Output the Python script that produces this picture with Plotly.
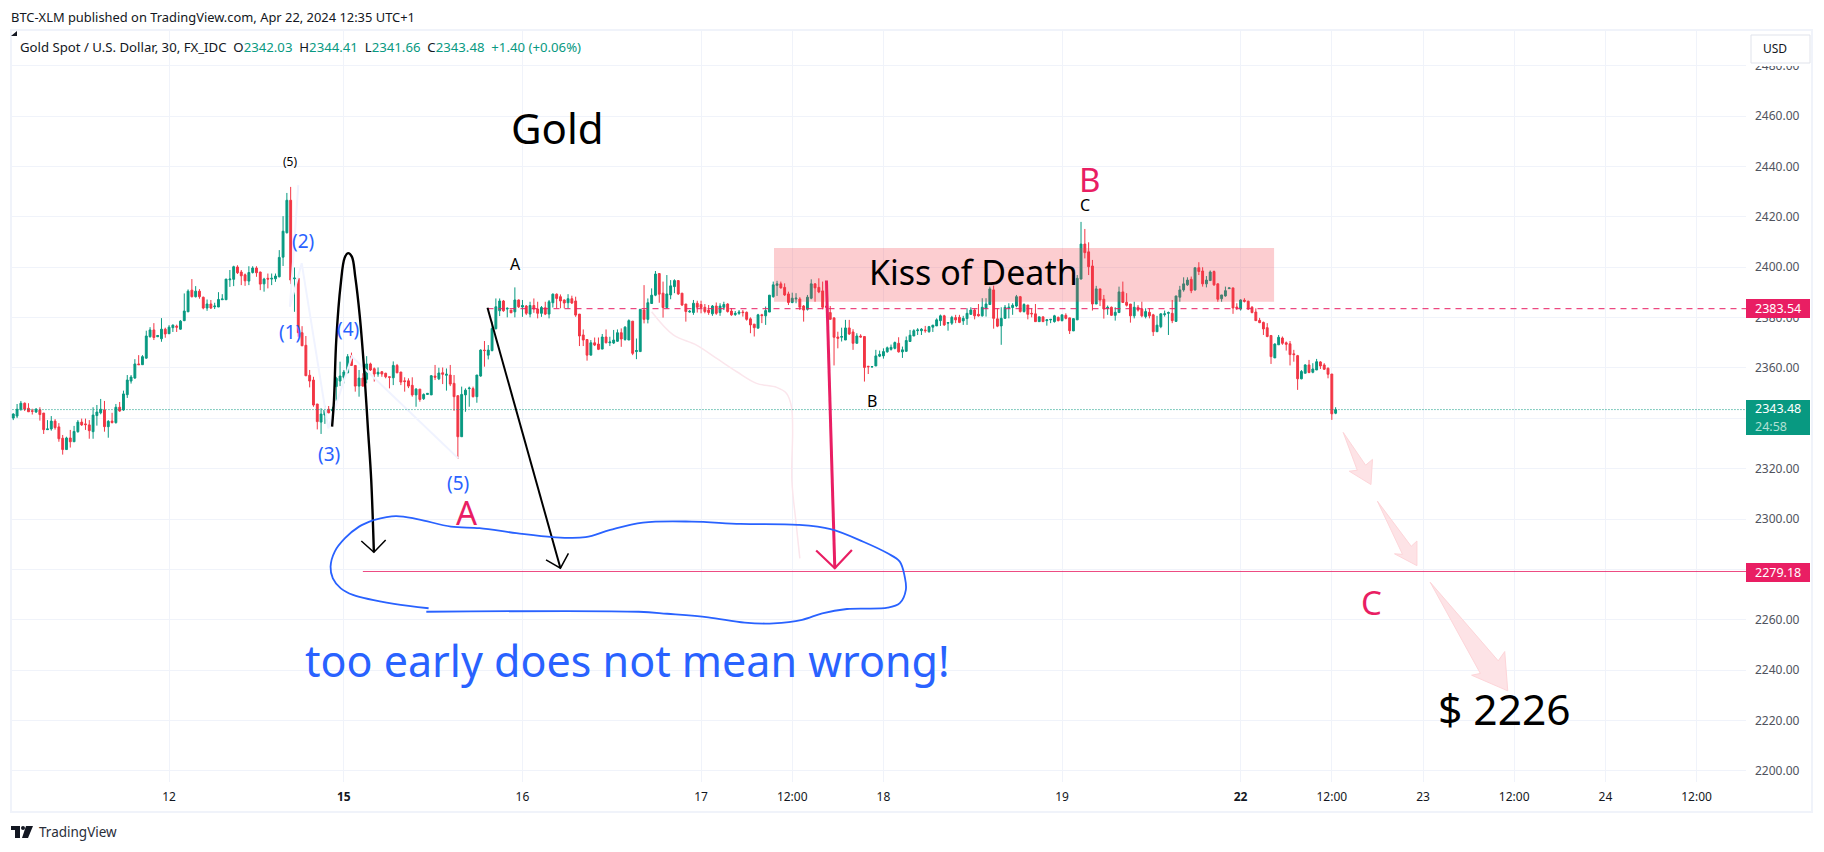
import plotly.graph_objects as go

opens = [2340.1,2340.9,2343.6,2346.0,2344.0,2343.0,2342.5,2343.4,2342.1,2335.5,
2335.8,2338.9,2336.6,2332.1,2327.6,2332.2,2330.7,2334.7,2338.5,2337.8,
2337.4,2334.7,2341.1,2342.2,2343.3,2336.7,2338.9,2338.3,2344.4,2343.3,
2349.4,2354.8,2356.0,2361.6,2361.3,2363.9,2372.4,2375.1,2372.4,2371.6,
2375.4,2373.6,2376.0,2376.6,2375.4,2378.8,2382.3,2390.9,2388.3,2390.5,
2388.1,2383.8,2385.4,2384.3,2384.2,2387.1,2387.1,2395.0,2395.2,2400.1,
2398.1,2397.0,2394.5,2397.9,2399.7,2398.1,2393.4,2395.6,2395.3,2395.4,
2396.2,2404.0,2413.7,2426.6,2395.4,2395.6,2374.0,2369.0,2357.1,2355.2,
2345.7,2338.5,2341.3,2343.6,2343.0,2352.6,2354.8,2356.3,2358.1,2364.7,
2361.0,2352.8,2356.0,2355.5,2361.6,2359.7,2357.6,2358.5,2357.9,2356.5,
2356.1,2361.0,2358.4,2354.9,2354.9,2353.1,2349.3,2351.6,2347.8,2349.5,
2349.3,2356.8,2355.7,2358.1,2357.1,2357.2,2353.9,2349.0,2332.7,2349.3,
2351.8,2351.8,2348.6,2356.8,2367.1,2365.1,2366.9,2375.6,2382.7,2386.6,
2383.4,2383.0,2382.3,2387.0,2384.2,2384.6,2381.4,2384.8,2383.4,2381.7,
2383.9,2381.4,2385.9,2389.3,2388.3,2387.0,2385.9,2387.5,2386.6,2381.4,
2373.1,2371.3,2365.1,2370.0,2369.5,2367.5,2372.3,2370.0,2369.9,2370.6,
2374.0,2371.3,2371.1,2378.6,2366.5,2366.5,2383.0,2379.3,2385.6,2388.9,
2397.5,2389.7,2384.0,2389.0,2392.3,2394.7,2389.7,2385.4,2382.2,2382.0,
2385.7,2385.2,2384.1,2383.0,2381.5,2384.6,2382.0,2384.1,2385.4,2382.6,
2381.2,2381.7,2382.2,2382.1,2379.5,2377.4,2375.8,2381.1,2380.7,2382.2,
2388.3,2392.8,2393.4,2392.0,2389.4,2386.0,2387.4,2387.4,2384.6,2383.3,
2387.7,2393.4,2392.0,2390.6,2384.6,2382.0,2379.9,2372.3,2372.2,2371.1,
2375.9,2374.3,2369.8,2372.7,2372.5,2360.7,2360.4,2360.8,2364.7,2364.8,
2366.4,2367.4,2367.8,2369.8,2366.4,2366.6,2370.5,2372.7,2374.8,2374.8,
2375.1,2374.4,2376.2,2376.7,2378.8,2380.7,2377.8,2377.8,2380.0,2380.1,
2378.7,2379.6,2381.3,2383.0,2381.3,2380.7,2383.7,2385.2,2391.0,2379.5,
2376.7,2379.7,2383.8,2384.0,2384.6,2388.3,2382.4,2385.0,2381.7,2381.5,
2378.4,2380.3,2378.8,2379.1,2378.4,2380.1,2378.8,2380.9,2379.9,2374.7,
2379.1,2395.3,2409.2,2406.1,2400.5,2385.4,2391.4,2387.3,2383.6,2384.1,
2380.9,2382.0,2390.2,2386.1,2385.4,2380.7,2384.1,2383.4,2380.4,2382.1,
2381.1,2374.4,2376.4,2381.2,2381.7,2381.7,2378.5,2388.1,2391.0,2393.0,
2395.2,2391.0,2399.8,2398.5,2393.4,2394.7,2398.3,2393.4,2387.5,2388.6,
2391.5,2391.8,2384.2,2383.4,2386.9,2386.5,2384.1,2382.2,2378.9,2378.1,
2376.0,2372.9,2364.0,2369.2,2371.9,2370.0,2369.6,2365.6,2364.9,2355.7,
2357.9,2361.2,2358.3,2359.2,2362.4,2361.2,2359.9,2357.6,2342.03]

highs = [2342.0,2345.7,2346.9,2346.3,2346.0,2343.8,2344.1,2344.4,2342.1,2339.3,
2340.9,2339.7,2338.1,2333.4,2332.7,2335.4,2337.0,2339.3,2339.9,2339.9,
2339.3,2344.4,2345.3,2347.7,2346.9,2339.3,2342.2,2345.7,2346.5,2351.0,
2357.2,2357.2,2363.5,2365.1,2365.1,2374.8,2376.2,2377.8,2372.9,2379.8,
2376.0,2377.0,2377.3,2377.2,2379.0,2389.6,2391.2,2395.3,2392.5,2391.3,
2388.3,2387.2,2387.0,2385.9,2390.1,2389.3,2395.3,2398.9,2400.6,2400.8,
2398.9,2397.5,2400.4,2400.4,2400.4,2398.2,2395.8,2397.5,2397.5,2397.5,
2406.8,2420.3,2429.5,2431.9,2399.9,2395.6,2376.6,2372.7,2359.2,2356.5,
2345.7,2344.0,2345.0,2344.9,2344.6,2356.5,2362.5,2359.2,2365.5,2366.1,
2361.0,2359.2,2357.9,2364.7,2362.1,2360.2,2360.2,2358.8,2358.1,2356.5,
2362.6,2361.6,2358.4,2356.3,2355.9,2356.3,2352.0,2351.6,2349.9,2350.0,
2357.2,2361.2,2360.1,2360.2,2359.8,2361.2,2357.2,2349.0,2352.6,2351.9,
2352.6,2352.6,2357.2,2367.4,2370.7,2369.1,2378.4,2387.6,2387.6,2387.0,
2384.0,2383.0,2392.0,2387.2,2387.0,2385.0,2386.3,2387.6,2386.3,2384.6,
2386.3,2387.0,2389.6,2389.6,2389.2,2387.2,2389.3,2388.7,2388.3,2381.4,
2375.3,2371.3,2371.1,2372.1,2372.1,2373.5,2375.3,2372.4,2375.1,2375.3,
2375.7,2376.6,2379.3,2378.6,2371.7,2383.3,2392.9,2387.6,2391.6,2398.5,
2397.5,2394.3,2396.9,2394.9,2395.2,2394.9,2389.7,2385.4,2383.0,2387.0,
2386.7,2386.7,2385.4,2385.0,2385.0,2386.0,2385.7,2386.3,2385.7,2383.7,
2382.6,2383.0,2383.0,2382.4,2380.1,2377.4,2381.5,2381.5,2384.4,2389.0,
2394.3,2394.6,2394.3,2393.6,2390.3,2389.9,2389.7,2388.1,2385.0,2389.0,
2395.2,2393.6,2395.6,2394.3,2387.0,2384.6,2379.9,2374.4,2376.0,2379.1,
2379.1,2375.4,2373.8,2373.4,2372.5,2360.7,2360.6,2367.2,2366.9,2367.8,
2368.5,2369.3,2370.5,2372.2,2368.5,2372.5,2375.1,2375.4,2375.8,2375.8,
2376.7,2376.7,2377.1,2379.7,2381.2,2381.1,2378.0,2380.7,2381.1,2381.1,
2380.7,2383.7,2384.1,2383.7,2385.4,2387.7,2387.7,2392.3,2392.7,2383.7,
2384.1,2385.0,2385.7,2385.7,2389.0,2388.6,2385.7,2385.0,2383.7,2385.4,
2380.3,2380.3,2379.3,2379.3,2381.1,2380.4,2381.1,2381.7,2379.9,2379.7,
2396.9,2418.0,2415.2,2409.9,2402.9,2392.6,2391.4,2389.0,2384.8,2384.4,
2384.1,2392.3,2394.3,2389.7,2385.4,2386.3,2385.0,2386.3,2383.7,2383.7,
2381.5,2380.7,2381.7,2382.8,2382.4,2387.0,2388.6,2392.6,2396.0,2396.0,
2396.3,2399.8,2402.0,2400.0,2396.5,2398.7,2398.7,2393.6,2389.0,2392.3,
2391.8,2391.8,2385.7,2387.3,2387.7,2386.7,2384.6,2383.7,2379.9,2378.4,
2377.8,2372.9,2369.8,2373.1,2372.5,2370.5,2370.7,2367.2,2365.2,2359.2,
2361.5,2363.2,2361.9,2363.6,2362.7,2361.9,2360.2,2357.6,2344.41]

lows = [2339.3,2340.1,2343.0,2342.9,2342.6,2341.5,2342.2,2339.1,2333.8,2335.4,
2335.1,2335.5,2330.7,2325.6,2327.6,2328.4,2330.7,2334.3,2337.0,2335.4,
2331.9,2331.9,2337.1,2341.6,2334.7,2332.3,2338.0,2337.9,2342.6,2343.0,
2348.1,2353.8,2355.7,2361.2,2361.2,2363.7,2372.1,2371.1,2372.4,2370.4,
2372.0,2373.5,2374.3,2374.3,2375.2,2378.6,2382.2,2388.0,2388.0,2387.5,
2383.3,2382.7,2383.4,2383.4,2384.2,2387.0,2387.0,2392.2,2392.5,2397.3,
2392.9,2392.6,2392.9,2397.5,2396.2,2390.9,2390.3,2391.6,2392.9,2394.2,
2396.0,2400.5,2413.4,2393.3,2382.3,2372.4,2368.8,2356.9,2352.3,2344.6,
2335.6,2333.8,2337.8,2342.0,2342.6,2347.0,2352.8,2353.9,2357.9,2360.8,
2350.6,2348.6,2352.6,2353.9,2358.8,2354.6,2356.5,2356.5,2355.9,2351.9,
2353.2,2357.9,2353.2,2350.6,2352.0,2348.6,2344.6,2346.6,2347.3,2349.3,
2349.3,2355.2,2355.2,2353.6,2351.0,2352.8,2343.0,2323.9,2332.7,2342.6,
2344.6,2348.3,2346.2,2356.5,2360.5,2363.4,2366.6,2375.3,2380.6,2382.3,
2380.1,2381.9,2380.1,2383.8,2380.3,2381.0,2380.1,2381.9,2379.7,2380.3,
2381.0,2379.7,2384.0,2383.7,2383.7,2383.7,2383.7,2385.4,2380.3,2368.7,
2368.7,2362.9,2365.1,2368.7,2367.1,2367.5,2369.8,2368.7,2369.5,2370.4,
2368.4,2370.8,2371.1,2365.1,2363.5,2366.5,2377.7,2377.7,2385.4,2388.5,
2385.9,2380.0,2383.6,2387.3,2389.7,2389.0,2384.6,2378.4,2382.0,2381.1,
2382.0,2381.7,2381.7,2381.1,2380.7,2381.1,2380.7,2383.0,2382.0,2380.7,
2380.7,2381.1,2380.4,2378.8,2373.8,2372.5,2375.8,2377.8,2377.1,2382.2,
2387.9,2388.6,2391.5,2388.6,2385.0,2385.7,2385.7,2383.0,2378.4,2382.8,
2387.3,2386.3,2389.7,2383.3,2380.0,2379.3,2361.0,2367.8,2370.5,2371.1,
2373.1,2367.2,2369.8,2372.1,2354.6,2357.6,2360.3,2360.8,2364.3,2363.7,
2366.1,2366.9,2367.4,2366.1,2364.0,2366.6,2370.5,2372.7,2373.1,2373.1,
2374.0,2374.0,2374.3,2376.7,2376.7,2376.7,2374.8,2377.1,2377.8,2377.8,
2377.1,2377.1,2381.1,2379.3,2380.4,2380.4,2380.4,2385.2,2375.6,2376.2,
2369.2,2379.7,2379.7,2381.1,2384.1,2382.0,2382.0,2379.3,2380.1,2378.4,
2378.4,2378.4,2376.8,2377.8,2378.0,2378.5,2378.5,2379.3,2373.5,2374.7,
2379.1,2395.2,2403.5,2396.9,2382.8,2385.4,2384.6,2379.6,2381.1,2380.7,
2378.8,2382.0,2386.0,2384.4,2378.0,2379.7,2382.4,2380.1,2379.7,2379.7,
2372.7,2374.4,2375.8,2380.4,2373.1,2377.8,2378.3,2386.3,2390.3,2392.6,
2389.7,2390.7,2396.9,2392.3,2392.0,2394.7,2392.6,2386.3,2386.3,2388.3,
2391.5,2381.5,2383.0,2382.8,2386.0,2383.0,2381.7,2378.8,2377.8,2373.1,
2372.2,2361.6,2364.0,2369.2,2369.2,2366.9,2361.0,2362.5,2351.3,2355.5,
2357.9,2357.9,2357.9,2359.2,2359.6,2359.2,2355.9,2339.4,2341.66]

closes = [2341.7,2343.6,2346.0,2343.6,2342.6,2342.8,2343.6,2341.5,2335.5,2335.8,
2338.9,2336.3,2331.9,2327.6,2332.2,2330.7,2334.8,2338.5,2337.4,2337.5,
2335.1,2341.3,2342.5,2343.6,2336.7,2338.8,2338.3,2344.4,2342.9,2349.7,
2355.2,2356.4,2361.6,2361.3,2364.5,2372.7,2375.1,2372.1,2372.9,2375.4,
2373.5,2376.2,2377.0,2376.2,2378.6,2382.6,2390.5,2388.3,2390.5,2388.3,
2383.8,2385.4,2383.8,2384.6,2387.2,2387.4,2395.3,2395.3,2400.2,2397.8,
2396.6,2394.6,2397.9,2399.7,2397.8,2393.3,2395.3,2395.3,2395.6,2396.5,
2403.9,2414.3,2426.6,2394.9,2395.7,2374.0,2368.8,2356.9,2354.8,2345.3,
2338.7,2341.7,2343.3,2342.2,2343.6,2355.9,2356.8,2358.4,2364.5,2361.0,
2352.8,2356.0,2352.8,2361.6,2359.2,2357.6,2358.3,2357.6,2356.5,2356.3,
2361.0,2358.1,2354.4,2354.6,2352.8,2349.3,2351.6,2347.5,2349.5,2349.9,
2356.9,2356.3,2358.0,2357.5,2357.5,2353.6,2348.6,2332.7,2349.5,2351.2,
2352.0,2348.6,2357.2,2367.1,2366.9,2367.1,2375.7,2384.3,2386.6,2382.7,
2383.7,2381.9,2387.0,2384.3,2384.8,2381.7,2384.8,2383.4,2381.7,2384.0,
2381.4,2386.3,2389.3,2387.6,2386.6,2385.8,2387.5,2385.8,2381.0,2372.7,
2371.1,2365.1,2370.0,2369.1,2367.4,2372.3,2370.0,2370.3,2371.1,2374.0,
2371.5,2376.2,2378.8,2365.8,2366.9,2383.3,2379.3,2385.9,2388.9,2397.3,
2389.3,2384.0,2389.4,2392.6,2394.7,2389.4,2385.0,2382.4,2382.5,2385.7,
2384.1,2384.0,2382.4,2382.0,2384.6,2381.7,2384.6,2385.2,2382.4,2381.1,
2381.7,2382.2,2382.0,2379.3,2377.1,2376.0,2381.1,2380.8,2382.8,2388.9,
2393.0,2393.4,2391.8,2389.0,2386.0,2387.7,2387.7,2384.1,2383.0,2388.1,
2393.4,2391.8,2390.2,2384.1,2384.1,2379.3,2372.2,2371.8,2372.5,2375.9,
2373.5,2369.8,2372.7,2372.3,2360.2,2360.5,2360.5,2364.8,2365.4,2366.5,
2368.0,2368.2,2370.1,2366.4,2367.2,2370.9,2373.0,2374.8,2375.1,2375.4,
2374.8,2376.4,2377.0,2379.1,2380.7,2377.1,2378.0,2380.1,2379.1,2378.1,
2379.7,2381.7,2383.0,2380.7,2380.7,2384.1,2385.4,2391.4,2379.7,2376.6,
2379.7,2384.1,2384.1,2384.9,2388.3,2382.4,2385.2,2381.3,2381.5,2378.4,
2380.3,2378.4,2379.1,2379.3,2380.7,2378.8,2381.1,2379.7,2374.8,2379.6,
2395.6,2409.2,2405.8,2400.2,2385.4,2391.4,2387.0,2383.4,2384.1,2380.9,
2382.1,2390.2,2386.0,2384.9,2380.7,2384.1,2383.0,2380.7,2382.4,2380.7,
2374.4,2377.0,2381.5,2381.5,2382.0,2378.8,2388.6,2391.0,2393.4,2394.9,
2390.7,2399.8,2398.3,2393.4,2394.9,2398.1,2393.0,2387.3,2389.0,2390.7,
2391.8,2383.8,2383.8,2387.0,2386.5,2383.4,2382.0,2378.8,2378.0,2375.5,
2372.5,2364.5,2369.5,2372.2,2369.8,2369.4,2365.3,2365.3,2355.7,2358.6,
2361.2,2358.2,2359.6,2362.5,2360.8,2359.5,2357.5,2341.8,2343.48]

bar_index = list(range(len(closes)))

price_ticks = [2200,2220,2240,2260,2280,2300,2320,2340,2360,2380,2400,2420,2440,2460,2480]
time_tick_bars = [41,87,134,181,205,229,276,323,347,371,395,419,443]
time_tick_text = ["12","<b>15</b>","16","17","12:00","18","19","<b>22</b>","12:00","23","12:00","24","12:00"]

last_price = 2343.48
target_price = 2279.18
resistance_price = 2383.54

hump_x = [83.9,84.4,85.0,86.2,87.2,88.1,89.1,90.0,91.2,92.4,93.3,94.2,94.9]
hump_y = [2336.7,2347.3,2371.1,2393.7,2403.7,2405.6,2404.2,2396.2,2380.4,2358.0,2336.7,2315.5,2286.8]
hump_head_x = [91.6,94.9,98.0]
hump_head_y = [2291.3,2286.8,2291.7]
drop_x = [124.8,144.0]
drop_y = [2383.9,2280.5]
drop_head_x = [140.2,144.0,146.1]
drop_head_y = [2283.8,2280.5,2286.4]
red_x = [214.0,215.1,216.2]
red_y = [2394.7,2335.4,2280.5]
red_head_x = [211.3,216.2,220.7]
red_head_y = [2287.5,2280.5,2287.7]
lasso_top_x = [94.8,100.7,106.6,115.2,122.7,132.4,142.0,150.6,157.1,165.7,178.6,191.4,206.5,215.1,223.7,230.1,233.3,234.6,234.9,233.3,230.1,219.4,212.9,207.6,200.1,192.5,182.9,172.1,164.6,108.7]
lasso_top_y = [2299.6,2301.2,2299.9,2297.0,2296.4,2294.4,2292.8,2292.8,2295.7,2298.6,2299.0,2298.1,2297.7,2296.0,2291.0,2286.4,2283.1,2277.1,2271.9,2266.6,2264.8,2264.3,2262.6,2260.0,2258.6,2258.9,2261.0,2262.4,2263.2,2263.2]
lasso_back_x = [109.3,100.2,89.4,86.2,84.1,83.5,84.6,87.3,91.0,94.8]
lasso_back_y = [2264.6,2266.3,2269.9,2272.5,2276.5,2281.1,2287.1,2292.4,2297.0,2299.6]
wave_x = [75,72.8,75.9,82.9,89.1,117.1]
wave_y = [2432.6,2384.3,2401.6,2336.0,2364.5,2324.1]
curve_x = [168,173.7,179.8,185.1,190.4,195.6,200.9,203.5,204.8,205.1,204.9,206,207]
curve_y = [2382.3,2373.1,2369.1,2363.8,2358.5,2353.9,2352.3,2349.9,2344.6,2335.4,2315.5,2298.5,2284.4]
arrow1_x = [350.0,355.9,357.7,357.3,351.6,353.7,350.0]
arrow1_y = [2334.4,2321.4,2323.7,2313.7,2319.0,2319.4,2334.4]
arrow2_x = [359.0,367.9,369.4,369.4,363.5,365.6,359.0]
arrow2_y = [2307.1,2289.2,2291.3,2281.5,2286.2,2286.0,2307.1]
arrow3_x = [372.9,390.8,392.5,393.3,383.8,386.1,372.9]
arrow3_y = [2274.9,2243.7,2247.4,2231.8,2238.0,2238.7,2274.9]

zone_bars = [200.2,331.8]
zone_prices = [2386.3,2407.6]

GREEN = "#089981"
RED = "#f23645"
PINK = "#e91e63"
BLUE = "#2962ff"
GRID = "#f0f3fa"
INK = "#131722"
FONT = "Noto Sans"

PL, PR, PT, PB = 11, 1746, 30, 782
def px(x): return (x - PL) / (PR - PL)
def py(y): return (PB - y) / (PB - PT)

fig = go.Figure()
fig.add_trace(go.Candlestick(
    x=bar_index, open=opens, high=highs, low=lows, close=closes,
    increasing=dict(line=dict(color=GREEN, width=1), fillcolor=GREEN),
    decreasing=dict(line=dict(color=RED, width=1), fillcolor=RED),
    whiskerwidth=0, hoverinfo="skip", showlegend=False))

def line(x, y, color, width, dash=None, shape="linear", fill=None, fillcolor=None):
    fig.add_trace(go.Scatter(x=x, y=y, mode="lines", hoverinfo="skip", showlegend=False,
        line=dict(color=color, width=width, dash=dash, shape=shape),
        fill=fill, fillcolor=fillcolor))

line(wave_x, wave_y, "#f0f3ff", 2)
line(curve_x, curve_y, "#fbe6ec", 1.5, shape="spline")
line([-1, 457], [last_price, last_price], GREEN, 1, dash="1px,2px")
line([124.8, 457], [resistance_price, resistance_price], PINK, 1, dash="6px,5px")
line([92, 457], [target_price, target_price], PINK, 0.8)
line(hump_x, hump_y, "black", 2.4, shape="spline")
line(hump_head_x, hump_head_y, "black", 1.5)
line(drop_x, drop_y, "black", 2)
line(drop_head_x, drop_head_y, "black", 1.5)
line(red_x, red_y, PINK, 3)
line(red_head_x, red_head_y, PINK, 2.2)
line(lasso_top_x, lasso_top_y, BLUE, 1.8, shape="spline")
line(lasso_back_x, lasso_back_y, BLUE, 1.8, shape="spline")
for ax_, ay_ in ((arrow1_x, arrow1_y), (arrow2_x, arrow2_y), (arrow3_x, arrow3_y)):
    line(ax_, ay_, "#fdd5d9", 1, fill="toself", fillcolor="#fde3e6")

shapes = [
    dict(type="rect", xref="x", yref="y", x0=zone_bars[0], x1=zone_bars[1], y0=zone_prices[0], y1=zone_prices[1],
         fillcolor="rgba(242,54,69,0.25)", line=dict(width=0), layer="above"),
    # outer chart frame
    dict(type="rect", xref="paper", yref="paper", x0=px(11), x1=px(1812), y0=py(30), y1=py(812),
         line=dict(color=GRID, width=2), fillcolor="rgba(0,0,0,0)", layer="below"),
    # white mask behind the USD button, as on the price scale of the reference
    dict(type="rect", xref="paper", yref="paper", x0=px(1747), x1=px(1811), y0=py(31), y1=py(66),
         fillcolor="white", line=dict(width=0), layer="above"),
    # last price tags
    dict(type="rect", xref="paper", yref="paper", x0=px(1746), x1=px(1810), y0=py(400), y1=py(435),
         fillcolor=GREEN, line=dict(width=0), layer="above"),
    dict(type="rect", xref="paper", yref="paper", x0=px(1746), x1=px(1810), y0=py(299), y1=py(318),
         fillcolor=PINK, line=dict(width=0), layer="above"),
    dict(type="rect", xref="paper", yref="paper", x0=px(1746), x1=px(1810), y0=py(563), y1=py(582),
         fillcolor=PINK, line=dict(width=0), layer="above"),
    # USD button
    dict(type="rect", xref="paper", yref="paper", x0=px(1751), x1=px(1810), y0=py(35), y1=py(63),
         fillcolor="white", line=dict(color="#e0e3eb", width=1), layer="above"),
    # TradingView logo
    dict(type="rect", xref="paper", yref="paper", x0=px(11), x1=px(20), y0=py(826), y1=py(830),
         fillcolor=INK, line=dict(width=0)),
    dict(type="rect", xref="paper", yref="paper", x0=px(15), x1=px(20), y0=py(826), y1=py(838),
         fillcolor=INK, line=dict(width=0)),
    dict(type="circle", xref="paper", yref="paper", x0=px(21), x1=px(25), y0=py(826), y1=py(830),
         fillcolor=INK, line=dict(width=0)),
    dict(type="path", xref="paper", yref="paper",
         path=f"M {px(26)} {py(826)} L {px(33)} {py(826)} L {px(28)} {py(838)} L {px(22)} {py(838)} Z",
         fillcolor=INK, line=dict(width=0)),
    # collapse marker, top left
    dict(type="path", xref="paper", yref="paper",
         path=f"M {px(11)} {py(36)} L {px(17)} {py(36)} L {px(17)} {py(31)} Z",
         fillcolor=INK, line=dict(width=0), layer="above"),
]

def note(text, bar, price, size, color="black"):
    return dict(text=text, x=bar, y=price, xref="x", yref="y", showarrow=False,
                xanchor="center", yanchor="middle", font=dict(size=size, color=color, family=FONT))

def chrome(text, x, y, size, color=INK, anchor="left"):
    return dict(text=text, x=px(x), y=py(y), xref="paper", yref="paper", showarrow=False,
                xanchor=anchor, yanchor="middle", font=dict(size=size, color=color, family=FONT))

sp = "\u00a0\u00a0"
def g(s): return f'<span style="color:{GREEN}">{s}</span>'
header = ("Gold Spot / U.S. Dollar, 30, FX_IDC" + sp + "O" + g("2342.03") + sp + "H" + g("2344.41") + sp +
          "L" + g("2341.66") + sp + "C" + g("2343.48") + sp + g("+1.40 (+0.06%)"))

annotations = [
    note("Gold", 143.1, 2455.5, 42),
    note("(5)", 72.9, 2441.8, 12),
    note("(2)", 76.2, 2410.5, 19, BLUE),
    note("(1)", 72.8, 2374.4, 19, BLUE),
    note("(4)", 88.1, 2375.4, 19, BLUE),
    note("(3)", 83, 2325.8, 19, BLUE),
    note("(5)", 117, 2314.4, 19, BLUE),
    note("A", 132.1, 2401.2, 16),
    note("B", 226, 2346.9, 16),
    note("C", 282, 2424.7, 16),
    note("B", 283.3, 2435.0, 33, PINK),
    note("A", 119.3, 2302.7, 33, PINK),
    note("C", 357.4, 2267.0, 33, PINK),
    note("$ 2226", 392.5, 2224.6, 42.5),
    note("Kiss of Death", 252.8, 2398.0, 34),
    note("too early does not mean wrong!", 161.4, 2244.0, 43, BLUE),
    chrome("BTC-XLM published on TradingView.com, Apr 22, 2024 12:35 UTC+1", 9, 17, 12.9),
    chrome(header, 18, 47, 13.2),
    chrome("TradingView", 37, 832, 13.5, "#2a2e39"),
    chrome("USD", 1761, 49, 12),
    chrome(f"{resistance_price:.2f}", 1753, 308.5, 12.5, "white"),
    chrome(f"{target_price:.2f}", 1753, 572.5, 12.5, "white"),
    chrome(f"{last_price:.2f}", 1753, 409, 12.5, "white"),
    chrome("24:58", 1753, 426, 12.5, "#b2e0d4"),
]

fig.update_layout(
    width=1824, height=852, autosize=False,
    margin=dict(l=PL, r=1824 - PR, t=PT, b=852 - PB),
    paper_bgcolor="white", plot_bgcolor="white",
    showlegend=False, shapes=shapes, annotations=annotations,
    font=dict(family=FONT, size=12, color=INK),
    xaxis=dict(range=[-0.6, 456], rangeslider=dict(visible=False), tickmode="array",
               tickvals=time_tick_bars, ticktext=time_tick_text, showgrid=True, gridcolor=GRID, gridwidth=1,
               zeroline=False, showline=False, ticks="", ticklabelstandoff=6,
               tickfont=dict(size=12, color=INK, family=FONT)),
    yaxis=dict(range=[2195.6, 2494.2], side="right", tickmode="array", tickvals=price_ticks,
               tickformat=".2f", showgrid=True, gridcolor=GRID, gridwidth=1, zeroline=False,
               showline=False, ticks="", ticklabelstandoff=8,
               tickfont=dict(size=12, color="#50535e", family=FONT)),
)

fig.write_html("out.html", config={"displayModeBar": False},
               post_script="document.body.style.margin='0';")
